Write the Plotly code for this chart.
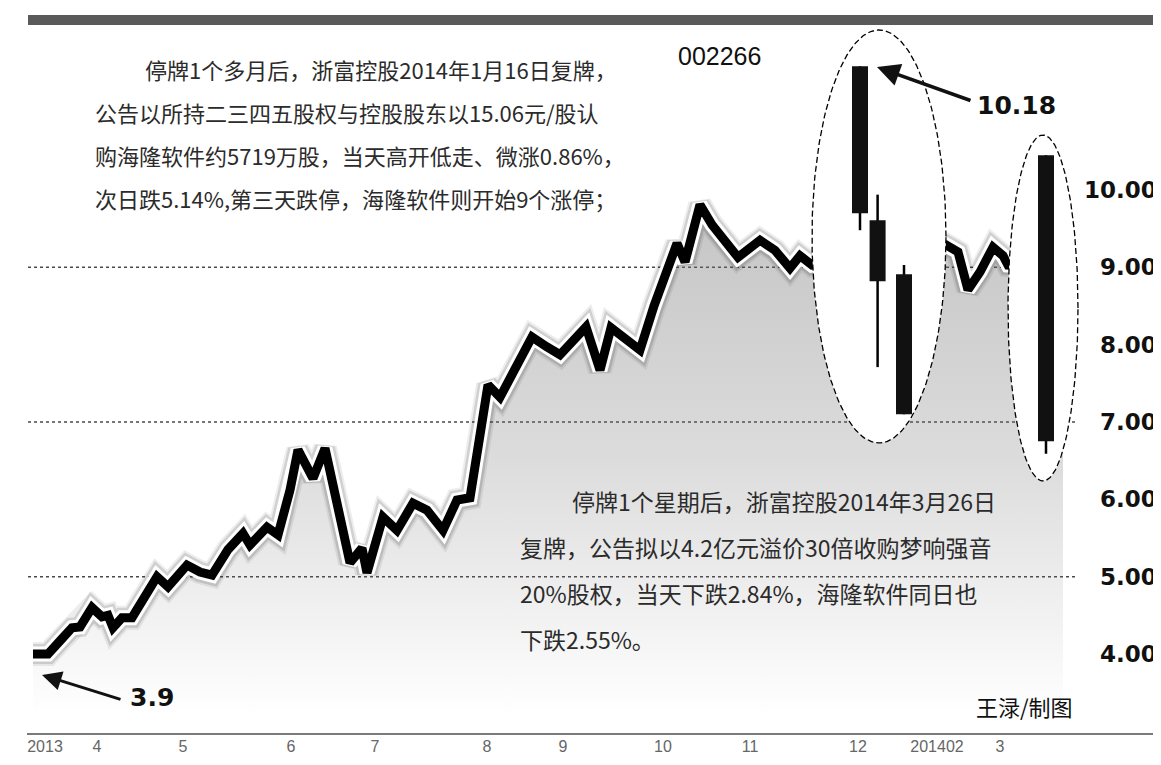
import numpy as np
import plotly.graph_objects as go

# ---------------- data ----------------
# trading-day index (approx.) and closing price of 002266 浙富控股
DAY = [1.25, 5, 8, 11, 13, 16, 18.5, 20, 21.25, 23.5, 26, 29, 32.25, 35, 39.75, 43, 46, 50,
       53.75, 55.5, 59.75, 62.5, 65.5, 67.5, 71.25, 74.25, 80.5, 83.5, 84.75, 88.75, 92.25,
       96.25, 99.75, 103.75, 107.25, 110.5, 115, 118, 126, 129.75, 133, 139.5, 143, 145.75,
       153, 156.5, 162.25, 164.25, 168, 171, 177.5, 183, 186.75, 190.5, 193, 196,
       229.5, 232.5, 235, 238, 241.25, 243.75, 245, 258.75]
PRICE = [4.00, 4.00, 4.17, 4.34, 4.35, 4.60, 4.48, 4.50, 4.34, 4.47, 4.47, 4.72, 5.00, 4.87,
         5.15, 5.06, 5.02, 5.35, 5.56, 5.41, 5.64, 5.54, 6.12, 6.64, 6.27, 6.66, 5.18, 5.37,
         5.05, 5.77, 5.60, 5.95, 5.86, 5.60, 5.99, 6.02, 7.48, 7.32, 8.10, 7.97, 7.87, 8.23,
         7.67, 8.22, 7.93, 8.50, 9.31, 9.07, 9.81, 9.55, 9.13, 9.35, 9.22, 8.99, 9.15, 9.03,
         9.29, 9.20, 8.71, 8.94, 9.26, 9.15, 9.03, 9.00]

# candles shown inside the ellipses (after resumption of trading)
C_DAY = [208, 212.4, 219, 254.5]
C_OPEN = [11.60, 9.61, 8.91, 10.45]
C_CLOSE = [9.70, 8.82, 7.10, 6.75]
C_HIGH = [11.60, 9.94, 9.03, 10.45]
C_LOW = [9.48, 7.71, 7.10, 6.59]

X_TICK_POS = [4.25, 17.25, 38.75, 65.75, 86.75, 114.75, 133.75, 158.75, 180.5, 207.5, 227.25, 243]
X_TICK_TEXT = ["2013", "4", "5", "6", "7", "8", "9", "10", "11", "12", "201402", "3"]
Y_LABELS = [4, 5, 6, 7, 8, 9, 10]
GRID_Y = [5, 7, 9]

# ellipse highlights: (centre day, centre price, half-width days, half-height price)
ELLIPSES = [(212.75, 9.399, 16.75, 2.670), (253.75, 8.474, 8.75, 2.237)]

TEXT1 = ["停牌1个多月后，浙富控股2014年1月16日复牌，",
         "公告以所持二三四五股权与控股股东以15.06元/股认",
         "购海隆软件约5719万股，当天高开低走、微涨0.86%，",
         "次日跌5.14%,第三天跌停，海隆软件则开始9个涨停；"]
TEXT2 = ["停牌1个星期后，浙富控股2014年3月26日",
         "复牌，公告拟以4.2亿元溢价30倍收购梦响强音",
         "20%股权，当天下跌2.84%，海隆软件同日也",
         "下跌2.55%。"]

# ---------------- layout helpers ----------------
# the page shows the figure offset by the 8px body margin, so the figure is
# sized to the visible area and all reference pixel positions are shifted by 8.
W, H = 1153, 757
L, R, T, B = 20, 0, 12, 30
PW, PH = W - L - R, H - T - B


def xp(px):
    return (px - 28) / PW


def yp(py):
    return (735 - py) / PH


fig = go.Figure()

# gradient area under the price line
fig.add_trace(go.Scatter(
    x=DAY, y=PRICE, mode="lines", line=dict(width=0), fill="tozeroy",
    fillgradient=dict(type="vertical", start=3.2, stop=9.8,
                      colorscale=[[0, "rgba(110,110,110,0)"], [0.5, "rgba(110,110,110,0.24)"],
                                  [1, "rgba(110,110,110,0.40)"]]),
    hoverinfo="skip", showlegend=False))

# shadow, white halo, black line
for w, c in [(24, "rgba(0,0,0,0.07)"), (20, "rgba(0,0,0,0.12)"), (15, "white"), (9, "black")]:
    fig.add_trace(go.Scatter(x=DAY, y=PRICE, mode="lines",
                             line=dict(width=w, color=c), hoverinfo="skip", showlegend=False))

# ellipses
t = np.linspace(0, 2 * np.pi, 240)
for cx, cy, rx, ry in ELLIPSES:
    fig.add_trace(go.Scatter(x=cx + rx * np.cos(t), y=cy + ry * np.sin(t), mode="lines",
                             fill="toself", fillcolor="white",
                             line=dict(color="black", width=1.3, dash="6px,3px"),
                             hoverinfo="skip", showlegend=False))

# candle wicks
wx, wy = [], []
for d, lo, hi in zip(C_DAY, C_LOW, C_HIGH):
    wx += [d, d, None]
    wy += [lo, hi, None]
fig.add_trace(go.Scatter(x=wx, y=wy, mode="lines", line=dict(color="black", width=2.5),
                         hoverinfo="skip", showlegend=False))
# candle bodies (thick segments from open to close)
bx, by = [], []
for d, o, c in zip(C_DAY, C_OPEN, C_CLOSE):
    bx += [d, d, None]
    by += [o, c, None]
fig.add_trace(go.Scatter(x=bx, y=by, mode="lines", line=dict(color="#111111", width=16),
                         hoverinfo="skip", showlegend=False))

shapes = []
# top dark bar
shapes.append(dict(type="rect", xref="paper", yref="paper", x0=xp(28), x1=xp(1161),
                   y0=yp(25), y1=yp(15), fillcolor="#5a5a5a", line=dict(width=0), layer="above"))
# bottom axis line
shapes.append(dict(type="line", xref="paper", yref="paper", x0=xp(27), x1=xp(1161),
                   y0=yp(734), y1=yp(734), line=dict(color="#7a7a7a", width=2)))
# dotted grid lines
for g in GRID_Y:
    shapes.append(dict(type="line", xref="x", yref="y", x0=0, x1=(1075 - 28) / 4, y0=g, y1=g,
                       line=dict(color="#4a4a4a", width=1.5, dash="dot"), layer="below"))

annotations = []
cjk = "Noto Sans CJK SC"
for i, s in enumerate(TEXT1):
    annotations.append(dict(text=s, xref="paper", yref="paper",
                            x=xp(143 if i == 0 else 93), y=yp(69 + 43 * i),
                            xanchor="left", yanchor="middle", showarrow=False,
                            font=dict(family=cjk, size=22, color="#2b2b2b")))
for i, s in enumerate(TEXT2):
    annotations.append(dict(text=s, xref="paper", yref="paper",
                            x=xp(570 if i == 0 else 518), y=yp(501 + 46 * i),
                            xanchor="left", yanchor="middle", showarrow=False,
                            font=dict(family=cjk, size=23, color="#2b2b2b")))
annotations.append(dict(text="002266", xref="paper", yref="paper", x=xp(676), y=yp(56),
                        xanchor="left", yanchor="middle", showarrow=False,
                        font=dict(family="Liberation Sans, Arial", size=25, color="#111")))
annotations.append(dict(text="王渌/制图", xref="paper", yref="paper", x=xp(974), y=yp(706),
                        xanchor="left", yanchor="middle", showarrow=False,
                        font=dict(family=cjk, size=22, color="#111")))
bold = dict(family="DejaVu Sans", size=25, color="#111", weight="bold")
annotations.append(dict(text="10.18", xref="paper", yref="paper", x=xp(975), y=yp(106),
                        xanchor="left", yanchor="middle", showarrow=False, font=bold))
annotations.append(dict(text="3.9", xref="paper", yref="paper", x=xp(128), y=yp(697),
                        xanchor="left", yanchor="middle", showarrow=False, font=bold))
# arrows
annotations.append(dict(text="", x=212.25, y=11.59, xref="x", yref="y", ax=95, ay=34,
                        showarrow=True, arrowhead=2, arrowsize=1.3, arrowwidth=3.5,
                        arrowcolor="#111"))
annotations.append(dict(text="", x=3.5, y=3.73, xref="x", yref="y", ax=80, ay=25,
                        showarrow=True, arrowhead=2, arrowsize=1.3, arrowwidth=3,
                        arrowcolor="#111"))
# right-hand price labels
for v in Y_LABELS:
    annotations.append(dict(text=f"{v:.2f}", xref="paper", yref="y", x=xp(1159), y=v,
                            xanchor="right", yanchor="middle", showarrow=False,
                            font=dict(family="DejaVu Sans", size=23, color="#111",
                                      weight="bold")))

fig.update_layout(
    width=W, height=H, margin=dict(l=L, r=R, t=T, b=B),
    paper_bgcolor="white", plot_bgcolor="white", showlegend=False,
    shapes=shapes, annotations=annotations,
    xaxis=dict(range=[0, PW / 4], tickmode="array", tickvals=X_TICK_POS, ticktext=X_TICK_TEXT,
               showgrid=False, zeroline=False, showline=False, ticks="",
               tickfont=dict(family="Liberation Sans Narrow, Liberation Sans, Arial", size=16,
                             color="#666"), fixedrange=True),
    yaxis=dict(range=[4 - (735 - 654) / 77.33, 10 + (190 - 20) / 77.33], visible=False,
               fixedrange=True),
)

fig.write_html("out.html")
